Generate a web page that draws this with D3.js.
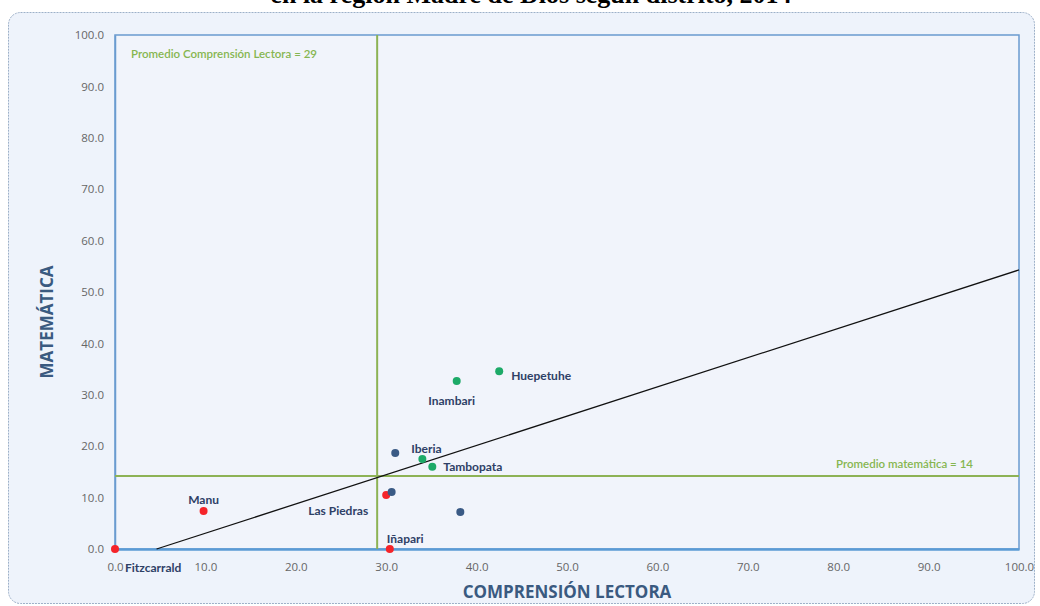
<!DOCTYPE html>
<html>
<head>
<meta charset="utf-8">
<script src="https://cdn.jsdelivr.net/npm/d3@7"></script>
<style>
  body { margin: 0; background: #fff; }
  svg { display: block; }
  .tick text { font-family: "Open Sans", sans-serif; font-size: 11.5px; fill: #666; }
  .lbl { font-family: Lato, "Open Sans", sans-serif; font-size: 12px; font-weight: bold; fill: #2E4066; }
  .prom { font-family: Lato, "Open Sans", sans-serif; font-size: 11.5px; font-weight: 600; fill: #86B650; }
</style>
</head>
<body>
<svg width="1040" height="606"></svg>
<script>
// districts: comprensión lectora (x), matemática (y), group, label
var lectura = [0.0, 9.8, 30.4, 30.0, 30.6, 31.0, 38.2, 34.0, 35.1, 37.8, 42.5];
var matematica = [0.0, 7.4, 0.0, 10.5, 11.1, 18.7, 7.2, 17.5, 16.0, 32.7, 34.6];
var grupo = ["bajo", "bajo", "bajo", "bajo", "medio", "medio", "medio", "alto", "alto", "alto", "alto"];
var etiquetas = ["Fitzcarrald", "Manu", "Iñapari", "Las Piedras", "", "Iberia", "", "", "Tambopata", "Inambari", "Huepetuhe"];
var xTicks = [0, 10, 20, 30, 40, 50, 60, 70, 80, 90, 100];
var yTicks = [0, 10, 20, 30, 40, 50, 60, 70, 80, 90, 100];
var promedioLectura = 29;
var promedioMate = 14.2;
var tendenciaX = [4.6, 100];
var tendenciaY = [0, 54.3];

var svg = d3.select("svg");
var x = d3.scaleLinear().domain([0, 100]).range([115, 1019]);
var y = d3.scaleLinear().domain([0, 100]).range([549, 35]);
var color = d3.scaleOrdinal().domain(["bajo", "medio", "alto"]).range(["#F5242A", "#3A5A85", "#1DAA68"]);

// offsets for labels (px)
var lblPos = {
  "Fitzcarrald": [10, 23, "start"],
  "Manu": [0, -7, "middle"],
  "Iñapari": [-3, -6, "start"],
  "Las Piedras": [-18, 20, "end"],
  "Iberia": [16, 0, "start"],
  "Tambopata": [11, 4, "start"],
  "Inambari": [-5, 24, "middle"],
  "Huepetuhe": [12, 9, "start"]
};

// title sits above the frame, only its lower part shows
svg.append("text")
  .attr("x", 531).attr("y", 2.5)
  .attr("text-anchor", "middle")
  .style("font-family", "'Liberation Serif', serif")
  .style("font-weight", "bold").style("font-size", "26px")
  .text("en la región Madre de Dios según distrito, 2014");

svg.append("rect")
  .attr("x", 8.5).attr("y", 12.5).attr("width", 1026).attr("height", 591)
  .attr("rx", 12)
  .attr("fill", "#EEF3FB")
  .attr("stroke", "#9DB0C8").attr("stroke-dasharray", "2,1");

svg.append("rect")
  .attr("x", x(0)).attr("y", y(100))
  .attr("width", x(100) - x(0)).attr("height", y(0) - y(100))
  .attr("fill", "#F1F4FB")
  .attr("stroke", "#6A9BD0").attr("stroke-width", 1.5);

var yAxis = svg.append("g")
  .attr("transform", "translate(" + x(0) + ",0)")
  .call(d3.axisLeft(y).tickValues(yTicks).tickFormat(d3.format(".1f")).tickSize(0).tickPadding(11));
yAxis.select(".domain").attr("stroke", "#6A9BD0").attr("stroke-width", 1.5);

var xAxis = svg.append("g")
  .attr("transform", "translate(0," + y(0) + ")")
  .call(d3.axisBottom(x).tickValues(xTicks).tickFormat(d3.format(".1f")).tickSize(0).tickPadding(14));
xAxis.select(".domain").attr("stroke", "#5B9BD5").attr("stroke-width", 2.5);

// average lines
svg.append("line")
  .attr("x1", x(promedioLectura)).attr("x2", x(promedioLectura))
  .attr("y1", y(100)).attr("y2", y(0))
  .attr("stroke", "#8DB255").attr("stroke-width", 2);
svg.append("line")
  .attr("x1", x(0)).attr("x2", x(100))
  .attr("y1", y(promedioMate)).attr("y2", y(promedioMate))
  .attr("stroke", "#8DB255").attr("stroke-width", 2);

svg.append("text")
  .attr("class", "prom")
  .attr("x", 131).attr("y", 58)
  .text("Promedio Comprensión Lectora = " + promedioLectura);
svg.append("text")
  .attr("class", "prom")
  .attr("x", 973).attr("y", y(promedioMate) - 8)
  .attr("text-anchor", "end")
  .text("Promedio matemática = " + Math.round(promedioMate));

// trend line
svg.append("line")
  .attr("x1", x(tendenciaX[0])).attr("y1", y(tendenciaY[0]))
  .attr("x2", x(tendenciaX[1])).attr("y2", y(tendenciaY[1]))
  .attr("stroke", "#111").attr("stroke-width", 1.3);

var puntos = lectura.map(function(d, i) {
  return { x: d, y: matematica[i], g: grupo[i], name: etiquetas[i] };
});

svg.append("g").selectAll("circle")
  .data(puntos)
  .enter().append("circle")
  .attr("cx", function(d) { return x(d.x); })
  .attr("cy", function(d) { return y(d.y); })
  .attr("r", 4)
  .attr("fill", function(d) { return color(d.g); });

svg.append("g").selectAll("text")
  .data(puntos.filter(function(d) { return d.name; }))
  .enter().append("text")
  .attr("class", "lbl")
  .attr("x", function(d) { return x(d.x) + lblPos[d.name][0]; })
  .attr("y", function(d) { return y(d.y) + lblPos[d.name][1]; })
  .attr("text-anchor", function(d) { return lblPos[d.name][2]; })
  .text(function(d) { return d.name; });

// axis titles
svg.append("text")
  .attr("transform", "translate(53,322) rotate(-90)")
  .attr("text-anchor", "middle")
  .style("font-family", "'Open Sans', sans-serif").style("font-weight", "bold").style("font-size", "17px")
  .attr("fill", "#3A5A80")
  .text("MATEMÁTICA");
svg.append("text")
  .attr("x", 567).attr("y", 598)
  .attr("text-anchor", "middle")
  .style("font-family", "'Open Sans', sans-serif").style("font-weight", "bold").style("font-size", "17px")
  .attr("fill", "#3A5A80")
  .text("COMPRENSIÓN LECTORA");
</script>
</body>
</html>
